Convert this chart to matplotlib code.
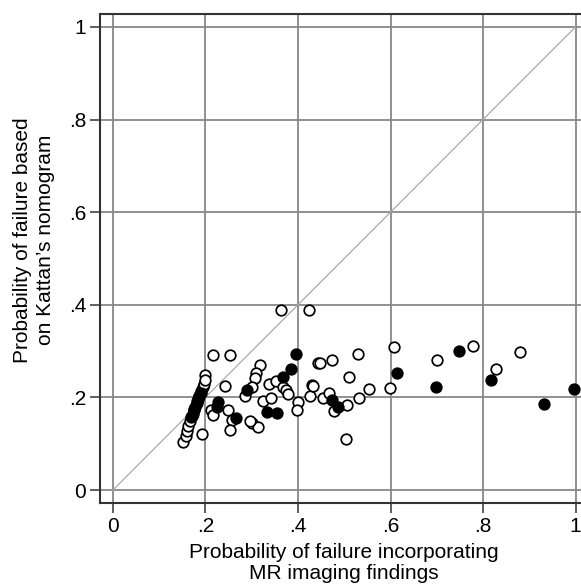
import numpy as np
import matplotlib.pyplot as plt

plt.rcParams['font.family'] = ['Liberation Sans', 'DejaVu Sans']

# open circles: x = MR-based probability, y = Kattan nomogram probability
open_x = [0.364, 0.424, 0.216, 0.252, 0.200, 0.318, 0.309, 0.307, 0.300, 0.285,
          0.338, 0.352, 0.368, 0.374, 0.379, 0.325, 0.341, 0.401, 0.398, 0.430,
          0.426, 0.444, 0.300, 0.314, 0.242, 0.213, 0.217, 0.249, 0.257, 0.253,
          0.296, 0.192, 0.448, 0.474, 0.530, 0.511, 0.432, 0.554, 0.455, 0.466,
          0.478, 0.505, 0.531, 0.504, 0.608, 0.599, 0.701, 0.779, 0.828, 0.879,
          0.152, 0.157, 0.160, 0.163, 0.166, 0.170, 0.176, 0.182, 0.186, 0.190,
          0.194, 0.197, 0.199]
open_y = [0.389, 0.389, 0.291, 0.291, 0.248, 0.271, 0.253, 0.241, 0.223, 0.202,
          0.230, 0.236, 0.223, 0.216, 0.207, 0.192, 0.198, 0.189, 0.173, 0.227,
          0.203, 0.274, 0.144, 0.137, 0.225, 0.173, 0.162, 0.173, 0.151, 0.130,
          0.148, 0.122, 0.274, 0.281, 0.293, 0.243, 0.225, 0.219, 0.198, 0.210,
          0.171, 0.184, 0.198, 0.110, 0.308, 0.221, 0.281, 0.312, 0.261, 0.297,
          0.104, 0.117, 0.128, 0.138, 0.148, 0.160, 0.176, 0.192, 0.203, 0.213,
          0.222, 0.230, 0.238]

# filled circles
fill_x = [0.396, 0.384, 0.367, 0.289, 0.228, 0.224, 0.332, 0.355, 0.266, 0.474,
          0.486, 0.613, 0.698, 0.747, 0.817, 0.931, 0.997,
          0.168, 0.172, 0.175, 0.178, 0.181, 0.184, 0.187, 0.190]
fill_y = [0.294, 0.261, 0.243, 0.216, 0.191, 0.180, 0.169, 0.167, 0.156, 0.194,
          0.180, 0.253, 0.222, 0.300, 0.237, 0.185, 0.219,
          0.158, 0.165, 0.172, 0.180, 0.187, 0.196, 0.204, 0.210]

ticks = [0, 0.2, 0.4, 0.6, 0.8, 1.0]
tick_labels = ['0', '.2', '.4', '.6', '.8', '1']

fig = plt.figure(figsize=(5.81, 5.88), dpi=100)
ax = fig.add_axes([0.1721, 0.1446, 0.8408, 0.8316])

ax.plot([0, 1], [0, 1], color='#aaaaaa', lw=0.9, zorder=2)
ax.scatter(open_x, open_y, s=58, facecolors='white', edgecolors='black',
           linewidths=1.25, zorder=3)
ax.scatter(fill_x, fill_y, s=58, facecolors='black', edgecolors='black',
           linewidths=1.25, zorder=4)

ax.set_xlim(-0.028, 1.028)
ax.set_ylim(-0.028, 1.028)
ax.set_xticks(ticks)
ax.set_xticklabels(tick_labels)
ax.set_yticks(ticks)
ax.set_yticklabels(tick_labels, rotation=0)
ax.grid(True, color='#888888', lw=1.3, zorder=1)
ax.set_axisbelow(True)
ax.tick_params(direction='out', length=7, width=1.1, color='#333333',
               labelsize=15, pad=3)
for s in ax.spines.values():
    s.set_color('#333333')
    s.set_linewidth(1.5)

ax.set_xlabel('Probability of failure incorporating\nMR imaging findings',
              fontsize=15, linespacing=1.12, labelpad=5)
ax.set_ylabel('Probability of failure based\non Kattan\u2019s nomogram',
              fontsize=15, linespacing=1.25)
ax.yaxis.set_label_coords(-0.092, 0.538)

fig.savefig('out.png', dpi=100)
